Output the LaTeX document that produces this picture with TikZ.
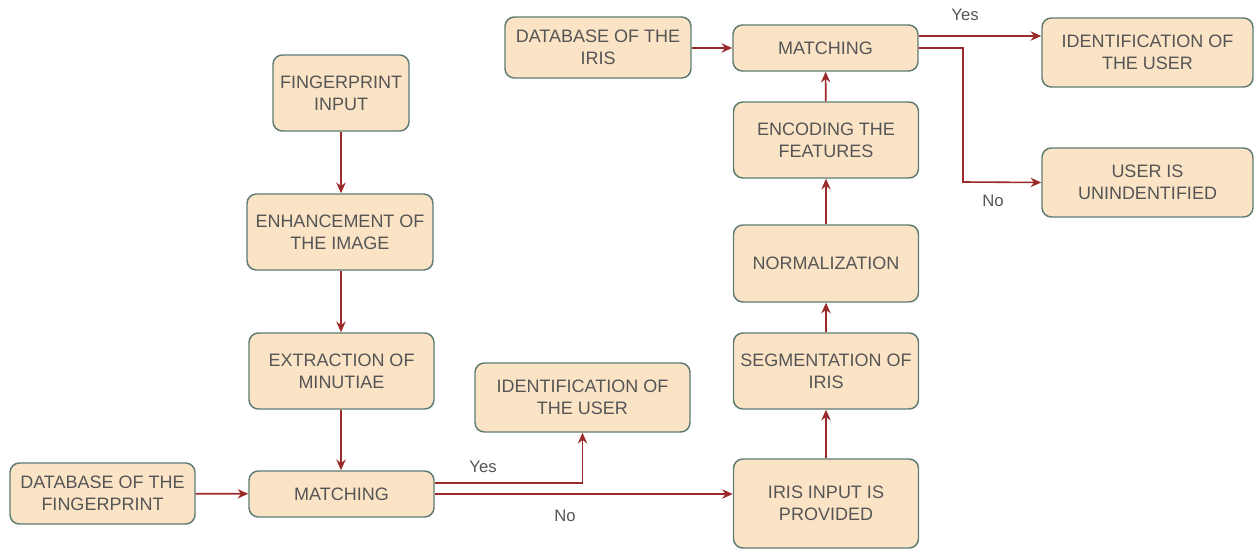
\documentclass[tikz,border=0pt]{standalone}
\usepackage{fontspec}
\setmainfont{Liberation Sans}
\usetikzlibrary{arrows.meta}
\definecolor{boxfill}{HTML}{FBE3C6}
\definecolor{boxline}{HTML}{5E7C72}
\definecolor{arrowc}{HTML}{9B2A2A}
\definecolor{txt}{HTML}{555555}
\tikzset{
  box/.style={draw=boxline, fill=boxfill, line width=1.1pt, rounded corners=7pt,
    align=center, text=txt, font=\fontsize{13.5}{16.5}\selectfont, inner sep=0pt},
  conn/.style={draw=arrowc, line width=1.2pt, -{Stealth[length=8pt,width=7pt]}},
  lbl/.style={text=txt, font=\fontsize{12.5}{15}\selectfont, inner sep=0pt}
}
\begin{document}
\begin{tikzpicture}[x=0.75pt,y=-0.75pt]
\useasboundingbox (0,0) rectangle (1254,550);
% fingerprint column
\node[box, minimum width=136*0.75pt, minimum height=76*0.75pt] (fpin) at (341,93) {FINGERPRINT\\INPUT};
\node[box, minimum width=186*0.75pt, minimum height=76*0.75pt] (enh) at (340,232) {ENHANCEMENT OF\\THE IMAGE};
\node[box, minimum width=185*0.75pt, minimum height=76*0.75pt] (ext) at (341.5,371) {EXTRACTION OF\\MINUTIAE};
\node[box, minimum width=185*0.75pt, minimum height=46*0.75pt] (m1) at (341.5,494) {MATCHING};
\node[box, minimum width=185*0.75pt, minimum height=61*0.75pt] (dbfp) at (102.5,493.5) {DATABASE OF THE\\FINGERPRINT};
\node[box, minimum width=215*0.75pt, minimum height=69*0.75pt] (id1) at (582.5,397.5) {IDENTIFICATION OF\\THE USER};
% iris column
\node[box, minimum width=185*0.75pt, minimum height=89*0.75pt] (irin) at (826,503.5) {IRIS INPUT IS\\PROVIDED};
\node[box, minimum width=185*0.75pt, minimum height=76*0.75pt] (seg) at (826,371) {SEGMENTATION OF\\IRIS};
\node[box, minimum width=185*0.75pt, minimum height=77*0.75pt] (norm) at (826,263.5) {NORMALIZATION};
\node[box, minimum width=185*0.75pt, minimum height=76*0.75pt] (enc) at (826,140) {ENCODING THE\\FEATURES};
\node[box, minimum width=185*0.75pt, minimum height=46*0.75pt] (m2) at (825.5,48) {MATCHING};
\node[box, minimum width=186*0.75pt, minimum height=61*0.75pt] (dbir) at (598,47.5) {DATABASE OF THE\\IRIS};
\node[box, minimum width=211*0.75pt, minimum height=69*0.75pt] (id2) at (1147.5,52.5) {IDENTIFICATION OF\\THE USER};
\node[box, minimum width=211*0.75pt, minimum height=69*0.75pt] (unid) at (1147.5,182.5) {USER IS\\UNINDENTIFIED};
% connectors
\draw[conn] (fpin.south) -- (fpin.south |- enh.north);
\draw[conn] (enh.south -| fpin.south) -- (ext.north -| fpin.south);
\draw[conn] (ext.south -| fpin.south) -- (m1.north -| fpin.south);
\draw[conn] (dbfp) -- (m1);
\draw[conn] (m1.east |- 0,483) -| (id1.south);
\draw[conn] (m1.east) -- (m1.east -| irin.west);
\draw[conn] (irin) -- (seg);
\draw[conn] (seg) -- (norm);
\draw[conn] (norm) -- (enc);
\draw[conn] (enc) -- (m2);
\draw[conn] (dbir.east |- m2) -- (m2.west);
\draw[conn] (m2.east |- 0,36) -- (id2.west |- 0,36);
\draw[conn] (m2.east |- 0,48) -| (963,182) -- (unid.west);
% labels
\node[lbl] (yes1) at (483,467) {Yes};
\node[lbl] (no1) at (565,516) {No};
\node[lbl] (yes2) at (965,15) {Yes};
\node[lbl] (no2) at (993,201) {No};
\end{tikzpicture}
\end{document}
